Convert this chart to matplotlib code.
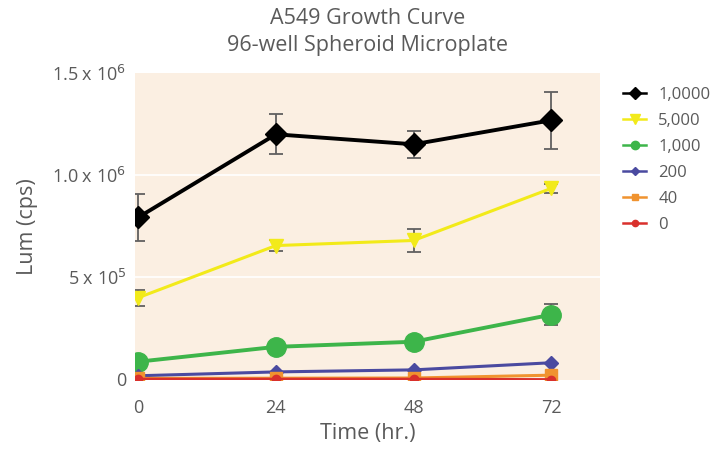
import numpy as np
import matplotlib.pyplot as plt
from matplotlib.ticker import FixedLocator, FixedFormatter

plt.rcParams['font.family'] = ['Open Sans', 'DejaVu Sans']

hours = [0, 24, 48, 72]
labels = ['1,0000', '5,000', '1,000', '200', '40', '0']

# luminescence (cps) per seeding density
lum_10000 = [0.792e6, 1.200e6, 1.151e6, 1.269e6]
err_10000 = [0.115e6, 0.098e6, 0.066e6, 0.140e6]
lum_5000 = [0.398e6, 0.654e6, 0.679e6, 0.935e6]
err_5000 = [0.040e6, 0.028e6, 0.058e6, 0.022e6]
lum_1000 = [0.084e6, 0.157e6, 0.182e6, 0.315e6]
err_1000 = [0.010e6, 0.010e6, 0.012e6, 0.050e6]
lum_200 = [0.015e6, 0.034e6, 0.044e6, 0.079e6]
lum_40 = [0.002e6, 0.003e6, 0.004e6, 0.018e6]
lum_0 = [-0.002e6, -0.002e6, -0.002e6, -0.004e6]

gray = '#5a5a5a'
fig = plt.figure(figsize=(7.24, 4.49), dpi=100)
ax = fig.add_axes([0.186, 0.154, 0.643, 0.683])
ax.set_facecolor('#fbefe2')

# (values, errors, colour, marker, size, line width, legend marker size)
series = [
    (lum_10000, err_10000, 'black', 'D', 11.5, 2.8, 6.5),
    (lum_5000, err_5000, '#f2ea1a', 'v', 10, 2.2, 7),
    (lum_1000, err_1000, '#3db54a', 'o', 14, 2.8, 6),
    (lum_200, None, '#4a4aa0', 'D', 7, 2.2, 4.5),
    (lum_40, None, '#f0932f', 's', 8.5, 2.2, 4.5),
    (lum_0, None, '#d9302c', 'o', 6, 2.2, 4.5),
]
for (y, e, c, m, ms, lw, lms), lab in zip(series, labels):
    if e is not None:
        ax.errorbar(hours, y, yerr=e, fmt='none', ecolor='#606060',
                    elinewidth=1.3, capsize=5, capthick=1.3, zorder=2)
    ax.plot(hours, y, color=c, marker=m, markersize=ms, lw=lw, zorder=3)

ax.set_xlim(-0.6, 80.5)
ax.set_ylim(-0.005e6, 1.5e6)
for v in [0.5e6, 1.0e6]:
    ax.axhline(v, color='white', lw=1.2, zorder=1)
for s in ax.spines.values():
    s.set_visible(False)

ax.xaxis.set_major_locator(FixedLocator(hours))
ax.yaxis.set_major_locator(FixedLocator([0, 0.5e6, 1.0e6, 1.5e6]))
ax.yaxis.set_major_formatter(FixedFormatter(
    ['0', r'5 x 10$^5$', r'1.0 x 10$^6$', r'1.5 x 10$^6$']))
ax.tick_params(length=0, colors=gray, labelsize=13)
ax.tick_params(axis='x', pad=14)
ax.tick_params(axis='y', pad=6)

ax.set_xlabel('Time (hr.)', color=gray, fontsize=15.5, labelpad=4)
ax.set_ylabel('Lum (cps)', color=gray, fontsize=15.5, labelpad=10)
ax.set_title('A549 Growth Curve\n96-well Spheroid Microplate',
             color=gray, fontsize=15.5, pad=16, linespacing=1.35)

leg_handles = []
for (y, e, c, m, ms, lw, lms), lab in zip(series, labels):
    lh, = ax.plot([], [], color=c, marker=m, markersize=lms, lw=1.8,
                  label=lab)
    leg_handles.append(lh)
leg = fig.legend(handles=leg_handles, loc='upper left',
                 bbox_to_anchor=(0.84, 0.84), frameon=False,
                 fontsize=12, handlelength=1.4, labelspacing=0.6,
                 handletextpad=0.7)
for t in leg.get_texts():
    t.set_color(gray)

fig.savefig('out.png', dpi=100)
